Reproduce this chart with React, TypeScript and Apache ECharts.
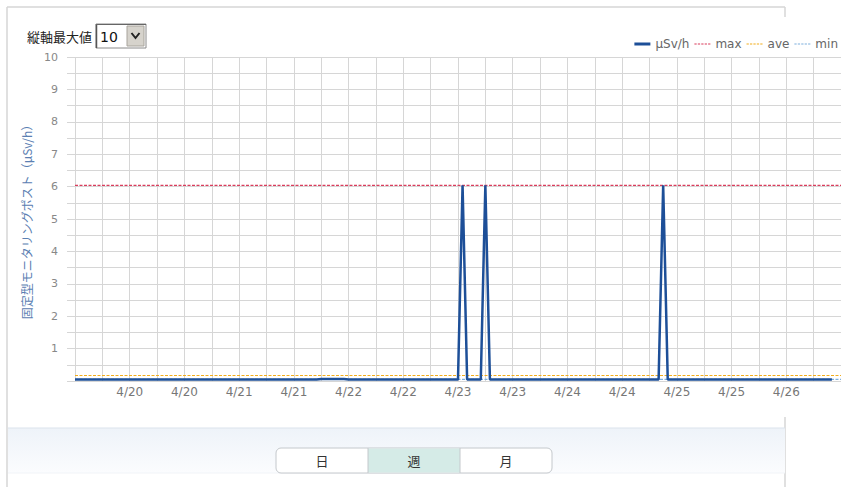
import React, { useEffect, useRef } from 'react';
import * as echarts from 'echarts';

// ---- data ----
const DAYS = ['4/19', '4/20', '4/21', '4/22', '4/23', '4/24', '4/25', '4/26'];
const START_HOUR = 12; // first slot is 4/19 12:00
const SLOT_COUNT = 169; // 4/19 12:00 .. 4/26 12:00, hourly
const Y_MIN = 0;
const Y_MAX = 10;
const Y_STEP = 0.5;
const Y_MAX_SELECT = '10';
const Y_SELECT_LABEL = '縦軸最大値';
const PERIOD_BUTTONS = ['日', '週', '月'];
const ACTIVE_PERIOD = '週';
const SERIES_NAMES = ['μSv/h', 'max', 'ave', 'min'];
const Y_NAME = '固定型モニタリングポスト（μSv/h）';

// hourly dose rate, from 4/19 12:00 (12 values per row)
const DOSE = [
  0.05, 0.05, 0.05, 0.05, 0.05, 0.05, 0.05, 0.05, 0.05, 0.05, 0.05, 0.05,
  0.05, 0.05, 0.05, 0.05, 0.05, 0.05, 0.05, 0.05, 0.05, 0.05, 0.05, 0.05,
  0.05, 0.05, 0.05, 0.05, 0.05, 0.05, 0.05, 0.05, 0.05, 0.05, 0.05, 0.05,
  0.05, 0.05, 0.05, 0.05, 0.05, 0.05, 0.05, 0.05, 0.05, 0.05, 0.05, 0.05,
  0.05, 0.05, 0.05, 0.05, 0.05, 0.05, 0.06, 0.06, 0.06, 0.06, 0.06, 0.06,
  0.05, 0.05, 0.05, 0.05, 0.05, 0.05, 0.05, 0.05, 0.05, 0.05, 0.05, 0.05,
  0.05, 0.05, 0.05, 0.05, 0.05, 0.05, 0.05, 0.05, 0.05, 0.05, 0.05, 0.05,
  0.05, 6.04, 0.05, 0.05, 0.05, 0.05, 6.04, 0.05, 0.05, 0.05, 0.05, 0.05,
  0.05, 0.05, 0.05, 0.05, 0.05, 0.05, 0.05, 0.05, 0.05, 0.05, 0.05, 0.05,
  0.05, 0.05, 0.05, 0.05, 0.05, 0.05, 0.05, 0.05, 0.05, 0.05, 0.05, 0.05,
  0.05, 0.05, 0.05, 0.05, 0.05, 0.05, 0.05, 0.05, 0.05, 6.04, 0.05, 0.05,
  0.05, 0.05, 0.05, 0.05, 0.05, 0.05, 0.05, 0.05, 0.05, 0.05, 0.05, 0.05,
  0.05, 0.05, 0.05, 0.05, 0.05, 0.05, 0.05, 0.05, 0.05, 0.05, 0.05, 0.05,
  0.05, 0.05, 0.05, 0.05, 0.05, 0.05, 0.05, 0.05, 0.05, 0.05, 0.05,
];
const MAX_VAL = 6.04;
const AVE_VAL = 0.17;
const MIN_VAL = 0.05;

const CATEGORIES: string[] = [];
for (let i = 0; i < SLOT_COUNT; i++) {
  const h = START_HOUR + i;
  CATEGORIES.push(`${DAYS[Math.floor(h / 24)]} ${h % 24}:00`);
}

const LATIN = '"DejaVu Sans", "Noto Sans CJK JP", sans-serif';
const CJK = '"Noto Sans CJK JP", "DejaVu Sans", sans-serif';
const GRID_COLOR = '#d6d6d6';
const LINE_COLOR = '#1d4f98';
const MAX_COLOR = '#d93d5c';
const AVE_COLOR = '#f2ad1c';
const MIN_COLOR = '#7fb0dd';

const SOLID_ICON = 'path://M0,0H16V3H0Z';
const DASH_ICON = 'path://M0,0h2v1h-2zM3,0h2v1h-2zM6,0h2v1h-2zM9,0h2v1h-2zM12,0h2v1h-2z';

export default function App() {
  const ref = useRef<HTMLDivElement>(null);
  useEffect(() => {
    if (!ref.current) return;
    const chart = echarts.init(ref.current, undefined, { renderer: 'svg' });

    // horizontal reference line spanning the whole category axis
    const refLine = (name: string, value: number, color: string) => ({
      name,
      type: 'line',
      data: [
        [0, value],
        [SLOT_COUNT - 1, value],
      ],
      symbol: 'none',
      silent: true,
      color,
      lineStyle: { color, width: 1.2, type: [3, 1.5] },
      itemStyle: { color },
      z: 3,
    });

    const btnX = 276, btnY = 448, btnW = 92, btnH = 25;
    const buttons: any[] = [];
    buttons.push({
      type: 'rect',
      shape: { x: btnX, y: btnY, width: btnW * 3, height: btnH, r: 5 },
      style: { fill: '#ffffff', stroke: '#c4c8cc', lineWidth: 1 },
      z: 10,
    });
    PERIOD_BUTTONS.forEach((label, i) => {
      if (label === ACTIVE_PERIOD) {
        buttons.push({
          type: 'rect',
          shape: { x: btnX + btnW * i, y: btnY + 0.5, width: btnW, height: btnH - 1 },
          style: { fill: '#d5ebe7' },
          z: 11,
        });
      }
      if (i > 0) {
        buttons.push({
          type: 'line',
          shape: { x1: btnX + btnW * i, y1: btnY, x2: btnX + btnW * i, y2: btnY + btnH },
          style: { stroke: '#c4c8cc', lineWidth: 1 },
          z: 12,
        });
      }
      buttons.push({
        type: 'text',
        x: btnX + btnW * i + btnW / 2,
        y: btnY + btnH / 2,
        style: {
          text: label,
          fill: '#333333',
          font: `13px ${CJK}`,
          textAlign: 'center',
          textVerticalAlign: 'middle',
        },
        z: 13,
      });
    });

    chart.setOption({
      animation: false,
      backgroundColor: '#ffffff',
      textStyle: { fontFamily: LATIN },
      grid: { left: 75, top: 57, width: 768, height: 324, containLabel: false },
      legend: {
        data: [
          { name: SERIES_NAMES[0], icon: SOLID_ICON },
          { name: SERIES_NAMES[1], icon: DASH_ICON },
          { name: SERIES_NAMES[2], icon: DASH_ICON },
          { name: SERIES_NAMES[3], icon: DASH_ICON },
        ],
        right: -2,
        top: 33,
        itemWidth: 16,
        itemHeight: 12,
        itemGap: 5,
        selectedMode: false,
        textStyle: { color: '#666666', fontSize: 12, fontFamily: LATIN },
      },
      xAxis: {
        type: 'category',
        boundaryGap: false,
        data: CATEGORIES,
        axisLine: { show: false },
        axisTick: { show: false },
        axisLabel: {
          interval: (idx: number) => idx % 12 === 0 && idx > 0 && idx < SLOT_COUNT - 1,
          formatter: (v: string) => v.split(' ')[0],
          color: '#777777',
          fontSize: 12,
          margin: 5,
        },
        splitLine: {
          show: true,
          interval: (idx: number) => idx % 6 === 0,
          lineStyle: { color: GRID_COLOR, width: 1 },
        },
      },
      yAxis: {
        type: 'value',
        min: Y_MIN,
        max: Y_MAX,
        interval: Y_STEP,
        name: Y_NAME,
        nameLocation: 'middle',
        nameRotate: 90,
        nameGap: 43,
        nameTextStyle: { color: '#5b80b2', fontSize: 12, fontFamily: CJK },
        axisLine: { show: false },
        axisTick: { show: true, length: 8, lineStyle: { color: GRID_COLOR } },
        axisLabel: {
          formatter: (v: number) => (v > 0 && Math.abs(v - Math.round(v)) < 1e-6 ? String(Math.round(v)) : ''),
          color: '#888888',
          fontSize: 11,
          margin: 17,
        },
        splitLine: { show: true, lineStyle: { color: GRID_COLOR, width: 1 } },
      },
      series: [
        refLine(SERIES_NAMES[3], MIN_VAL, MIN_COLOR),
        refLine(SERIES_NAMES[2], AVE_VAL, AVE_COLOR),
        refLine(SERIES_NAMES[1], MAX_VAL, MAX_COLOR),
        {
          name: SERIES_NAMES[0],
          type: 'line',
          data: DOSE,
          symbol: 'none',
          color: LINE_COLOR,
          lineStyle: { color: LINE_COLOR, width: 2.5 },
          itemStyle: { color: LINE_COLOR },
          z: 10,
        },
      ],
      graphic: [
        // panel frame
        { type: 'line', shape: { x1: 7, y1: 7, x2: 7, y2: 487 }, style: { stroke: '#d6d6d6', lineWidth: 1.5 }, z: 1 },
        { type: 'line', shape: { x1: 7, y1: 7, x2: 785, y2: 7 }, style: { stroke: '#d6d6d6', lineWidth: 1.5 }, z: 1 },
        { type: 'line', shape: { x1: 785, y1: 7, x2: 785, y2: 17 }, style: { stroke: '#d6d6d6', lineWidth: 1.5 }, z: 1 },
        { type: 'line', shape: { x1: 785, y1: 417, x2: 785, y2: 487 }, style: { stroke: '#d6d6d6', lineWidth: 1.5 }, z: 1 },
        // bottom band
        {
          type: 'rect',
          shape: { x: 8, y: 428, width: 777, height: 45 },
          style: {
            fill: new echarts.graphic.LinearGradient(0, 0, 0, 1, [
              { offset: 0, color: '#eef3f9' },
              { offset: 1, color: '#fbfcfe' },
            ]),
          },
          z: 2,
        },
        { type: 'line', shape: { x1: 8, y1: 428, x2: 785, y2: 428 }, style: { stroke: '#dbe3ec', lineWidth: 1 }, z: 3 },
        { type: 'line', shape: { x1: 8, y1: 473, x2: 785, y2: 473 }, style: { stroke: '#f1f4f8', lineWidth: 1 }, z: 3 },
        ...buttons,
        // y-max selector
        {
          type: 'text',
          x: 27,
          y: 36,
          style: { text: Y_SELECT_LABEL, fill: '#222222', font: `13px ${CJK}`, textVerticalAlign: 'middle' },
          z: 10,
        },
        {
          type: 'rect',
          shape: { x: 96, y: 24, width: 50, height: 24 },
          style: { fill: '#ffffff', stroke: '#8a8a8a', lineWidth: 1 },
          z: 10,
        },
        { type: 'line', shape: { x1: 96.5, y1: 24, x2: 96.5, y2: 48 }, style: { stroke: '#555555', lineWidth: 1.5 }, z: 11 },
        { type: 'line', shape: { x1: 96, y1: 24.5, x2: 146, y2: 24.5 }, style: { stroke: '#666666', lineWidth: 1 }, z: 11 },
        {
          type: 'text',
          x: 100,
          y: 36.5,
          style: { text: Y_MAX_SELECT, fill: '#111111', font: `14px ${LATIN}`, textVerticalAlign: 'middle' },
          z: 11,
        },
        {
          type: 'rect',
          shape: { x: 127, y: 26, width: 17, height: 20 },
          style: { fill: '#d6d3cc', stroke: '#a8a49c', lineWidth: 1 },
          z: 11,
        },
        {
          type: 'polyline',
          shape: { points: [[131.5, 33], [135.5, 38], [139.5, 33]] },
          style: { stroke: '#222222', lineWidth: 2, fill: 'none' },
          z: 12,
        },
      ],
    });
    return () => chart.dispose();
  }, []);

  return (
    <div
      ref={ref}
      style={{ position: 'absolute', left: 0, top: 0, width: 841, height: 487, background: '#ffffff' }}
    />
  );
}
